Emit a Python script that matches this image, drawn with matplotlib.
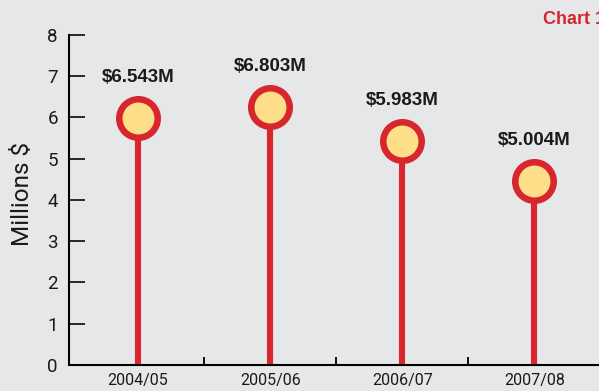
import matplotlib.pyplot as plt
import matplotlib.transforms as mtransforms

seasons = ['2004/05', '2005/06', '2006/07', '2007/08']
values = [6.543, 6.803, 5.983, 5.004]
value_labels = ['$6.543M', '$6.803M', '$5.983M', '$5.004M']

bg = '#e6e7e8'
red = '#d7262e'
yellow = '#ffde8a'
ink = '#1a1a1a'
thin = ['Roboto', 'DejaVu Sans']

fig = plt.figure(figsize=(5.99, 3.91), dpi=100, facecolor=bg)
ax = fig.add_axes([0.1152, 0.0665, 0.8848, 0.844], facecolor=bg)

x = list(range(len(seasons)))

# stems end inside the circles
stem_tops = [v - 0.3 for v in values]
ax.vlines(x, 0, stem_tops, color=red, linewidth=4.4, zorder=2)

# circles sit just below the value (top edge touches it)
ms, mew = 27.7, 4.7
off = mtransforms.offset_copy(ax.transData, fig=fig, x=0, y=-(ms + mew) / 2,
                              units='points')
ax.plot(x, values, 'o', ms=ms, mew=mew, mec=red, mfc=yellow,
        transform=off, zorder=3, clip_on=False)

for xi, v, lab in zip(x, values, value_labels):
    ax.annotate(lab, (xi, v), xytext=(0, 13), textcoords='offset points',
                ha='center', va='center', fontsize=13.5, fontweight='bold',
                family='Liberation Sans', color=ink)

ax.set_xlim(-0.523, 3.49)
ax.set_ylim(0, 8)

ax.spines['top'].set_visible(False)
ax.spines['right'].set_visible(False)
ax.spines['left'].set_bounds(0, 8)
ax.spines['left'].set_linewidth(1.5)
ax.spines['bottom'].set_linewidth(1.5)

ax.set_yticks(range(0, 9))
ax.tick_params(axis='y', direction='in', length=11.5, width=1.3, pad=8,
               labelsize=13.5, colors=ink)
for t in ax.get_yticklabels():
    t.set_family(thin)

ax.set_xticks(x)
ax.set_xticklabels(seasons, family=thin, fontsize=11.5, color=ink)
ax.tick_params(axis='x', which='major', length=0, pad=6)
ax.set_xticks([0.5, 1.5, 2.5], minor=True)
ax.tick_params(axis='x', which='minor', direction='in', length=6, width=1.3)

ax.set_ylabel('Millions $', family=thin, fontsize=17.5, color=ink)
ax.yaxis.set_label_coords(-0.066, 0.518)

fig.text(543 / 599, 1 - 20 / 391, 'Chart 1', ha='left', va='center',
         fontsize=13, fontweight='bold', family='Liberation Sans', color=red)

fig.savefig('out.png', dpi=100, facecolor=bg)
